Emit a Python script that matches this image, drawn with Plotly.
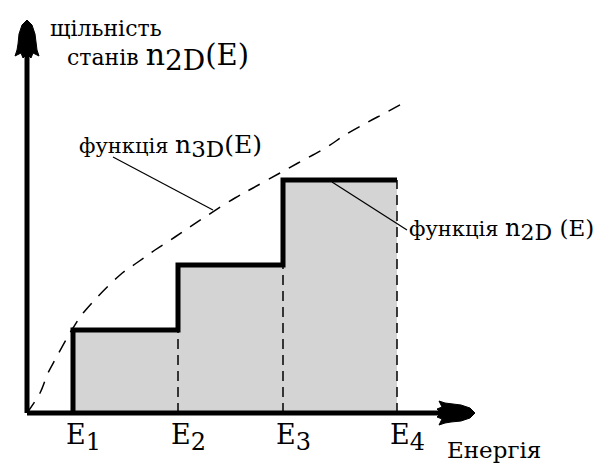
import plotly.graph_objects as go

# Subband edges E1..E4 and the 2D density-of-states plateaus between them
E_levels = [0.46, 1.51, 2.56, 3.70]
E_names = ["1", "2", "3", "4"]
dos_2d = [0.83, 1.48, 2.33]

# Sampled 3D density of states n3D(E)
e3d = [0.0, 0.13, 0.21, 0.29, 0.40, 0.46, 0.57, 0.93, 1.11, 1.28, 1.48,
       1.63, 1.81, 2.08, 2.26, 2.53, 2.71, 3.00, 3.18, 3.41, 3.58, 3.80]
n3d = [0.0, 0.20, 0.40, 0.55, 0.75, 0.85, 1.01, 1.38, 1.51, 1.63, 1.76,
       1.86, 1.98, 2.15, 2.25, 2.40, 2.50, 2.66, 2.78, 2.91, 3.00, 3.12]

# Axis extents (arrow tips)
x_tip = 4.48
y_tip = 3.93

FONT = "DejaVu Serif"
W, H = 613, 464
x_range = [-0.27, -0.27 + W / 100]
y_range = [-0.51, -0.51 + H / 100]

fig = go.Figure()

# staircase n2D(E) with grey fill beneath it
step_x = [E_levels[0]] + E_levels
step_y = [0] + dos_2d + [dos_2d[-1]]
fig.add_trace(go.Scatter(
    x=step_x, y=step_y, mode="lines", line_shape="hv",
    fill="tozeroy", fillcolor="#d4d4d4",
    line=dict(color="rgba(0,0,0,0)", width=0), hoverinfo="skip"))

# dashed verticals at E2, E3, E4
vx, vy = [], []
for e, top in zip(E_levels[1:], dos_2d):
    vx += [e, e, None]
    vy += [0, top, None]
fig.add_trace(go.Scatter(
    x=vx, y=vy, mode="lines",
    line=dict(color="black", width=1.5, dash="10px,6px"), hoverinfo="skip"))

# 3D density of states (dashed curve)
fig.add_trace(go.Scatter(
    x=e3d, y=n3d, mode="lines", line_shape="spline",
    line=dict(color="black", width=1.5, dash="13px,10px"), hoverinfo="skip"))

# axes
fig.add_trace(go.Scatter(
    x=[0, 0, None, 0, x_tip - 0.3], y=[y_tip - 0.3, 0, None, 0, 0],
    mode="lines", line=dict(color="black", width=5), hoverinfo="skip"))

# thick staircase outline
fig.add_trace(go.Scatter(
    x=step_x, y=step_y, mode="lines", line_shape="hv",
    line=dict(color="black", width=5), hoverinfo="skip"))

# arrowheads: outline in pixel offsets (along, across), tip at origin
head = [(0, 0), (-5, 5), (-14, 8), (-24, 9), (-30, 10), (-36, 12), (-33, 6),
        (-38, 4), (-34, 0), (-38, -4), (-33, -6), (-36, -12), (-30, -10),
        (-24, -9), (-14, -8), (-5, -5)]
ax_x = [x_tip + a / 100 for a, c in head]
ax_y = [c / 100 for a, c in head]
fig.add_trace(go.Scatter(
    x=ax_x + [ax_x[0]], y=ax_y + [ax_y[0]], mode="lines", fill="toself",
    fillcolor="black", line=dict(color="black", width=1), hoverinfo="skip"))
ay_x = [c / 100 for a, c in head]
ay_y = [y_tip + a / 100 for a, c in head]
fig.add_trace(go.Scatter(
    x=ay_x + [ay_x[0]], y=ay_y + [ay_y[0]], mode="lines", fill="toself",
    fillcolor="black", line=dict(color="black", width=1), hoverinfo="skip"))

# leader lines to the function labels
fig.add_trace(go.Scatter(
    x=[0.86, 1.86, None, 3.05, 3.80], y=[2.56, 2.03, None, 2.31, 1.83],
    mode="lines", line=dict(color="black", width=1.2), hoverinfo="skip"))


def sp(text, size):
    return ('<span style="font-family:' + FONT + ';font-size:'
            + str(size) + 'px">' + text + '</span>')


def sub(text, size):
    return '<sub>' + sp(text, size) + '</sub>'


annotations = []


def label(x, y, text, size, xanchor="left", yanchor="middle", xshift=0):
    annotations.append(dict(
        x=x, y=y, xref="x", yref="y", text=text, showarrow=False,
        xanchor=xanchor, yanchor=yanchor, xshift=xshift,
        font=dict(family=FONT, size=size, color="black")))


label(0.21, 3.85, sp("щільність", 22), 22)
label(0.38, 3.56,
      sp("станів ", 22) + sp("n", 30) + sub("2D", 28) + sp("(E)", 29), 22)
label(0.50, 2.67,
      sp("функція ", 21) + sp("n", 25) + sub("3D", 23) + sp("(E)", 25), 21)
label(3.80, 1.84,
      sp("функція ", 21) + sp("n", 24) + sub("2D", 22) + sp(" (E)", 23), 21)

for e, n in zip(E_levels, E_names):
    label(e, -0.24, sp("E", 27) + sub(n, 24), 27, xshift=-9)

label(4.18, -0.37, sp("Енергія", 23), 23)

fig.update_layout(
    width=W, height=H,
    margin=dict(l=0, r=0, t=0, b=0),
    paper_bgcolor="white", plot_bgcolor="white",
    showlegend=False,
    font=dict(family=FONT),
    xaxis=dict(range=x_range, visible=False, fixedrange=True),
    yaxis=dict(range=y_range, visible=False, fixedrange=True),
    annotations=annotations,
)

fig.write_html("out.html")
